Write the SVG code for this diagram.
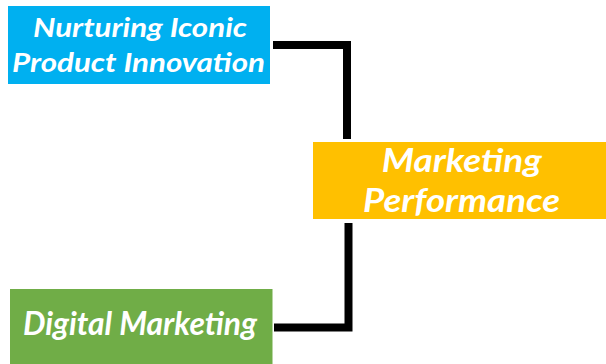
<svg xmlns="http://www.w3.org/2000/svg" width="606" height="364" viewBox="0 0 606 364">
<style>
.lbl{font-family:Lato,"Open Sans","Liberation Sans",sans-serif;font-weight:bold;font-style:italic;fill:#FFFFFF;text-anchor:middle}
.conn{fill:none;stroke:#000000;stroke-width:8;stroke-linejoin:miter;stroke-linecap:butt}
</style>
<rect width="606" height="364" fill="#FFFFFF"/>
<g id="connectors">
<polyline class="conn" points="273,45 347,45 347,139"/>
<polyline class="conn" points="274,327.5 348.5,327.5 348.5,223"/>
</g>
<g id="node-product-innovation">
<rect x="8" y="6" width="262" height="78" fill="#00B0F0"/>
<text class="lbl" x="140" y="36.5" font-size="27" textLength="214" lengthAdjust="spacingAndGlyphs">Nurturing Iconic</text>
<text class="lbl" x="138.5" y="72" font-size="27" textLength="253" lengthAdjust="spacingAndGlyphs">Product Innovation</text>
</g>
<g id="node-marketing-performance">
<rect x="313" y="142" width="293" height="77" fill="#FFC000"/>
<text class="lbl" x="461.7" y="171.7" font-size="32" textLength="160" lengthAdjust="spacingAndGlyphs">Marketing</text>
<text class="lbl" x="461.5" y="211.7" font-size="32" textLength="197" lengthAdjust="spacingAndGlyphs">Performance</text>
</g>
<g id="node-digital-marketing">
<rect x="10" y="289" width="262.5" height="75" fill="#70AD47"/>
<text class="lbl" x="140" y="335" font-size="32" textLength="234" lengthAdjust="spacingAndGlyphs">Digital Marketing</text>
</g>
</svg>
